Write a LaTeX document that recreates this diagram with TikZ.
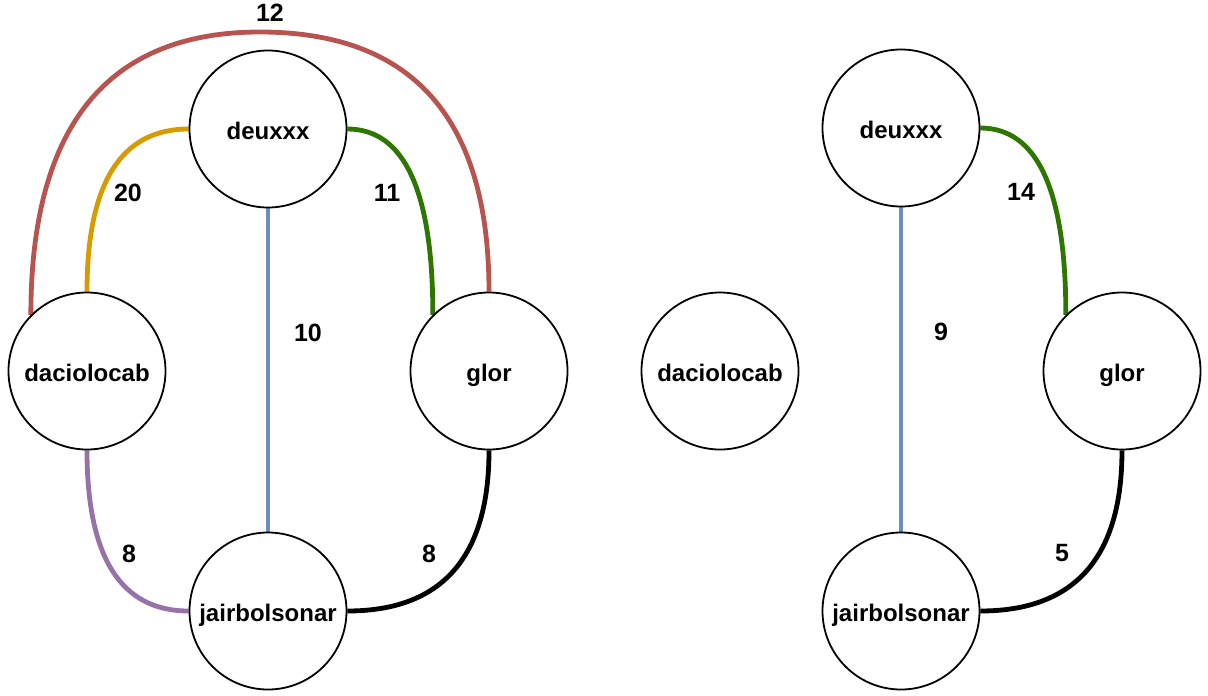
\documentclass[tikz,border=0pt]{standalone}
\usepackage{fontspec}
\setmainfont{Liberation Sans}
\usetikzlibrary{calc}

\definecolor{edgered}{HTML}{B85450}
\definecolor{edgeorange}{HTML}{D79B00}
\definecolor{edgegreen}{HTML}{2D7600}
\definecolor{edgeblue}{HTML}{6C8EBF}
\definecolor{edgepurple}{HTML}{9673A6}

\pgfdeclarelayer{links}
\pgfsetlayers{links,main}

\tikzset{
  vertex/.style={circle, draw=black, line width=1.8pt, fill=white, inner sep=0pt,
    minimum size=157pt, font=\fontsize{24}{28}\selectfont\bfseries,
    text height=20pt, text depth=0pt},
  weight/.style={inner sep=0pt, font=\fontsize{25}{30}\selectfont\bfseries,
    text height=18pt, text depth=0pt},
  link/.style={line width=4.8pt},
}

% quadratic curve: start #2, bend point #3, end #4
\newcommand\quadlink[4]{%
  \draw[link,#1] (#2) .. controls ($(#2)!2/3!(#3)$) and ($(#4)!2/3!(#3)$) .. (#4);%
}

\begin{document}
\begin{tikzpicture}[x=1pt,y=-1pt]
\useasboundingbox (0,0) rectangle (1208,696);

% ---------- first graph ----------
\node[vertex] (dA) at (268,129) {deuxxx};
\node[vertex] (cA) at (87,371) {daciolocab};
\node[vertex] (gA) at (489,371) {glor};
\node[vertex] (jA) at (268,611) {jairbolsonar};

\begin{pgfonlayer}{links}
  % red edge routed over the top
  \coordinate (redtop) at (268,32);
  \coordinate (r0) at (cA.135);
  \coordinate (r3) at (gA.north);
  \coordinate (r1) at (r0 |- redtop);
  \coordinate (r2) at (r3 |- redtop);
  \coordinate (rm) at ($(r1)!0.5!(r2)$);
  \draw[link,edgered] (r0) .. controls ($(r0)!2/3!(r1)$) and ($(rm)!2/3!(r1)$) .. (rm)
    .. controls ($(rm)!2/3!(r2)$) and ($(r3)!2/3!(r2)$) .. (r3);

  \coordinate (oA) at (cA.north |- dA.west);
  \quadlink{edgeorange}{dA.west}{oA}{cA.north}
  \coordinate (gkA) at (gA.135 |- dA.east);
  \quadlink{edgegreen}{dA.east}{gkA}{gA.135}
  \coordinate (pA) at (cA.south |- jA.west);
  \quadlink{edgepurple}{cA.south}{pA}{jA.west}
  \coordinate (kA) at (gA.south |- jA.east);
  \quadlink{black}{jA.east}{kA}{gA.south}
  \draw[link,edgeblue] (dA.south) -- (jA.north);
\end{pgfonlayer}

\node[weight] (w12) at (270,12.5) {12};
\node[weight] (w20) at (128,192) {20};
\node[weight] (w11) at (387,192) {11};
\node[weight] (w10) at (308,332) {10};
\node[weight] (w8a) at (129,553) {8};
\node[weight] (w8b) at (429,553) {8};

% ---------- second graph ----------
\node[vertex] (dB) at (901,128) {deuxxx};
\node[vertex] (cB) at (720,371) {daciolocab};
\node[vertex] (gB) at (1122,371) {glor};
\node[vertex] (jB) at (901,611) {jairbolsonar};

\begin{pgfonlayer}{links}
  \coordinate (gkB) at (gB.135 |- dB.east);
  \quadlink{edgegreen}{dB.east}{gkB}{gB.135}
  \coordinate (kB) at (gB.south |- jB.east);
  \quadlink{black}{jB.east}{kB}{gB.south}
  \draw[link,edgeblue] (dB.south) -- (jB.north);
\end{pgfonlayer}

\node[weight] (w14) at (1021,191) {14};
\node[weight] (w9) at (941,331) {9};
\node[weight] (w5) at (1062,552) {5};
\end{tikzpicture}
\end{document}
